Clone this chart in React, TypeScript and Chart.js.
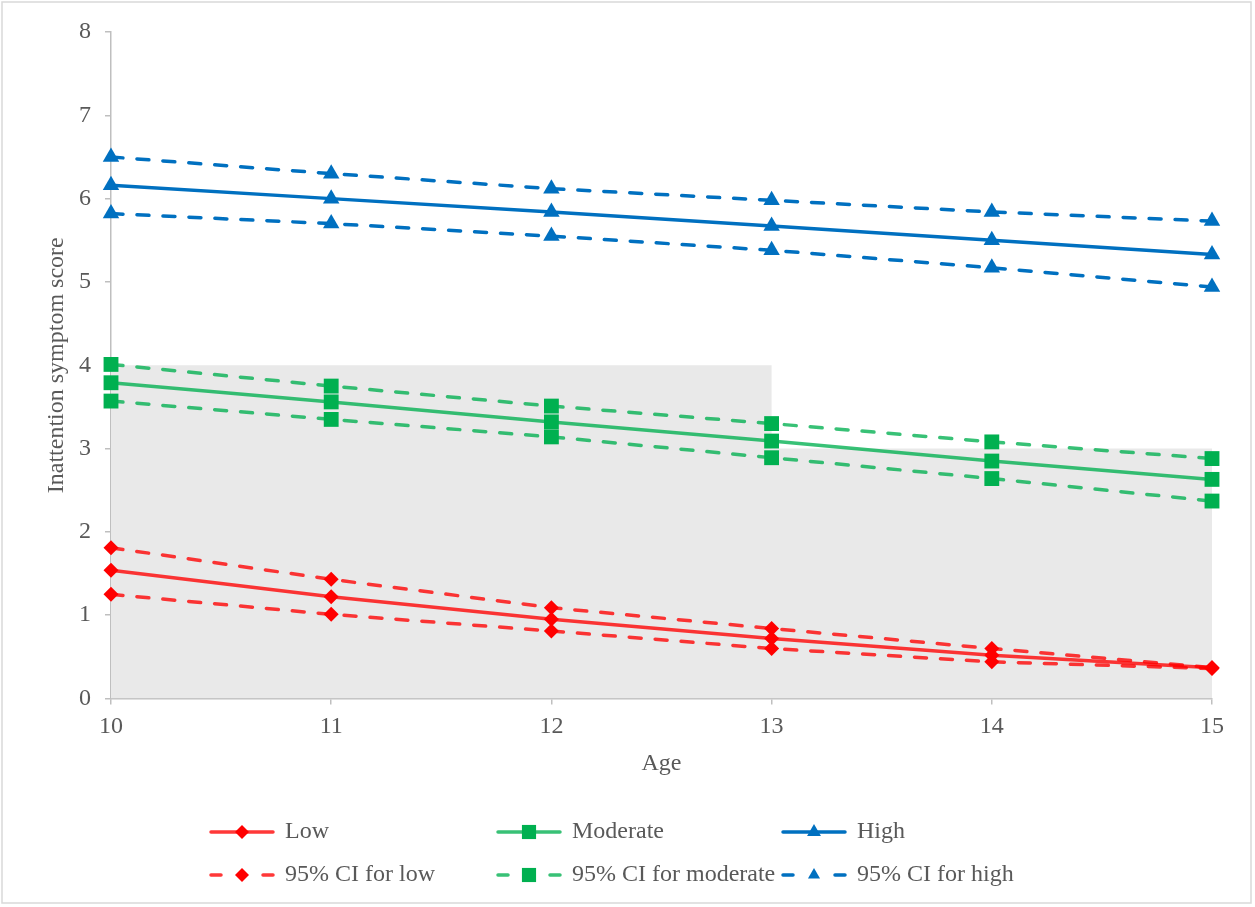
import { useEffect, useRef } from 'react';
import { Chart, registerables } from 'chart.js';

Chart.register(...registerables);

const FONT = "'Liberation Serif', 'Times New Roman', serif";
const TEXT = '#595959';
const AXIS = '#bfbfbf';

const ages = [10, 11, 12, 13, 14, 15];
const lowMean = [1.54, 1.22, 0.95, 0.72, 0.52, 0.37];
const lowUpper = [1.81, 1.43, 1.09, 0.84, 0.6, 0.37];
const lowLower = [1.25, 1.01, 0.81, 0.6, 0.44, 0.36];
const modMean = [3.79, 3.56, 3.32, 3.09, 2.85, 2.63];
const modUpper = [4.01, 3.75, 3.51, 3.3, 3.08, 2.88];
const modLower = [3.57, 3.35, 3.14, 2.89, 2.64, 2.37];
const highMean = [6.16, 6.0, 5.84, 5.67, 5.5, 5.33];
const highUpper = [6.5, 6.3, 6.12, 5.98, 5.84, 5.73];
const highLower = [5.82, 5.7, 5.55, 5.38, 5.17, 4.94];

// grey background region (age, score)
const shadeX = [10, 13, 13, 15];
const shadeY = [4, 4, 3, 3];

const legendLabels = ['Low', 'Moderate', 'High', '95% CI for low', '95% CI for moderate', '95% CI for high'];

const RED = '#ff0000';
const GREEN = '#00b050';
const BLUE = '#0070c0';
const RED_LINE = 'rgba(255,0,0,0.78)';
const GREEN_LINE = 'rgba(0,176,80,0.78)';
const BLUE_LINE = '#0070c0';

const toPts = (ys: number[]) => ages.map((x, i) => ({ x, y: ys[i] }));

type Style = 'rectRot' | 'rect' | 'triangle';

function drawMarker(ctx: CanvasRenderingContext2D, style: Style, x: number, y: number, r: number, color: string) {
  ctx.save();
  ctx.fillStyle = color;
  ctx.beginPath();
  if (style === 'rectRot') {
    ctx.moveTo(x - r, y);
    ctx.lineTo(x, y - r);
    ctx.lineTo(x + r, y);
    ctx.lineTo(x, y + r);
    ctx.closePath();
  } else if (style === 'rect') {
    const s = r * Math.SQRT1_2;
    ctx.rect(x - s, y - s, 2 * s, 2 * s);
  } else {
    ctx.moveTo(x, y - r);
    ctx.lineTo(x + r * 0.866, y + r * 0.5);
    ctx.lineTo(x - r * 0.866, y + r * 0.5);
    ctx.closePath();
  }
  ctx.fill();
  ctx.restore();
}

const legendItems = [
  { label: legendLabels[0], line: RED_LINE, marker: RED, style: 'rectRot' as Style, r: 7, dashed: false },
  { label: legendLabels[1], line: GREEN_LINE, marker: GREEN, style: 'rect' as Style, r: 10, dashed: false },
  { label: legendLabels[2], line: BLUE_LINE, marker: BLUE, style: 'triangle' as Style, r: 8, dashed: false },
  { label: legendLabels[3], line: RED_LINE, marker: RED, style: 'rectRot' as Style, r: 7, dashed: true },
  { label: legendLabels[4], line: GREEN_LINE, marker: GREEN, style: 'rect' as Style, r: 10, dashed: true },
  { label: legendLabels[5], line: BLUE_LINE, marker: BLUE, style: 'triangle' as Style, r: 7, dashed: true },
];

const frameAndLegend = {
  id: 'frameAndLegend',
  beforeDraw(chart: any) {
    const ctx = chart.ctx as CanvasRenderingContext2D;
    ctx.save();
    ctx.fillStyle = '#ffffff';
    ctx.fillRect(0, 0, chart.width, chart.height);
    ctx.strokeStyle = '#d9d9d9';
    ctx.lineWidth = 1.5;
    ctx.strokeRect(2, 2, chart.width - 6, chart.height - 6);
    ctx.restore();
  },
  afterDraw(chart: any) {
    const ctx = chart.ctx as CanvasRenderingContext2D;
    const cols = [209, 496, 781];
    const rows = [832, 875];
    const sampleLen = 66;
    ctx.save();
    ctx.font = `24px ${FONT}`;
    ctx.textBaseline = 'middle';
    ctx.textAlign = 'left';
    legendItems.forEach((it, i) => {
      const x0 = cols[i % 3];
      const y = rows[Math.floor(i / 3)];
      ctx.strokeStyle = it.line;
      ctx.lineWidth = 3.5;
      ctx.lineCap = 'round';
      ctx.beginPath();
      if (it.dashed) {
        ctx.moveTo(x0 + 2, y);
        ctx.lineTo(x0 + 12, y);
        ctx.moveTo(x0 + sampleLen - 12, y);
        ctx.lineTo(x0 + sampleLen - 2, y);
      } else {
        ctx.moveTo(x0 + 2, y);
        ctx.lineTo(x0 + sampleLen - 2, y);
      }
      ctx.stroke();
      drawMarker(ctx, it.style, x0 + sampleLen / 2, y, it.r, it.marker);
      ctx.fillStyle = TEXT;
      ctx.fillText(it.label, x0 + 76, y);
    });
    ctx.restore();
  },
};

function lineDs(label: string, ys: number[], line: string, marker: string, style: Style, r: number, dashed: boolean) {
  return {
    type: 'line' as const,
    label,
    data: toPts(ys),
    borderColor: line,
    backgroundColor: marker,
    borderWidth: 3.5,
    borderDash: dashed ? [12, 14] : [],
    borderCapStyle: 'round' as const,
    pointStyle: style,
    pointRadius: r,
    pointBackgroundColor: marker,
    pointBorderColor: marker,
    pointBorderWidth: 0,
    tension: 0,
    fill: false,
    clip: false,
    order: dashed ? 2 : 1,
  };
}

export default function App() {
  const ref = useRef<HTMLCanvasElement | null>(null);
  useEffect(() => {
    document.body.style.margin = '0';
    if (!ref.current) return;
    const chart = new Chart(ref.current, {
      type: 'line',
      data: {
        datasets: [
          lineDs('Low', lowMean, RED_LINE, RED, 'rectRot', 7.5, false),
          lineDs('Moderate', modMean, GREEN_LINE, GREEN, 'rect', 10.5, false),
          lineDs('High', highMean, BLUE_LINE, BLUE, 'triangle', 9.5, false),
          lineDs('95% CI for low (upper)', lowUpper, RED_LINE, RED, 'rectRot', 7.5, true),
          lineDs('95% CI for low (lower)', lowLower, RED_LINE, RED, 'rectRot', 7.5, true),
          lineDs('95% CI for moderate (upper)', modUpper, GREEN_LINE, GREEN, 'rect', 10.5, true),
          lineDs('95% CI for moderate (lower)', modLower, GREEN_LINE, GREEN, 'rect', 10.5, true),
          lineDs('95% CI for high (upper)', highUpper, BLUE_LINE, BLUE, 'triangle', 9.5, true),
          lineDs('95% CI for high (lower)', highLower, BLUE_LINE, BLUE, 'triangle', 9.5, true),
          {
            type: 'line' as const,
            label: 'shade',
            data: shadeX.map((x, i) => ({ x, y: shadeY[i] })),
            borderWidth: 0,
            borderColor: 'rgba(0,0,0,0)',
            backgroundColor: '#e9e9e9',
            pointRadius: 0,
            fill: 'origin',
            tension: 0,
            order: 10,
          },
        ] as any,
      },
      options: {
        animation: false,
        responsive: false,
        devicePixelRatio: 1,
        layout: { padding: { top: 32, right: 43, bottom: 118.5, left: 0 } },
        plugins: {
          legend: { display: false },
          tooltip: { enabled: false },
        },
        scales: {
          x: {
            type: 'linear',
            min: 10,
            max: 15,
            ticks: { stepSize: 1, color: TEXT, font: { size: 24, family: FONT }, padding: 8 },
            grid: { display: true, drawOnChartArea: false, drawTicks: true, tickLength: 6, color: AXIS, lineWidth: 1.5 },
            border: { display: true, color: AXIS, width: 1.5 },
            title: { display: true, text: 'Age', color: TEXT, font: { size: 24, family: FONT }, padding: { top: 0, bottom: 10 } },
            afterFit: (s: any) => { s.height = 90; },
          },
          y: {
            type: 'linear',
            min: 0,
            max: 8,
            ticks: { stepSize: 1, color: TEXT, font: { size: 24, family: FONT }, padding: 14 },
            grid: { display: true, drawOnChartArea: false, drawTicks: true, tickLength: 6, color: AXIS, lineWidth: 1.5 },
            border: { display: true, color: AXIS, width: 1.5 },
            title: { display: true, text: 'Inattention symptom score', color: TEXT, font: { size: 24, family: FONT }, padding: { top: 42, bottom: 0 } },
            afterFit: (s: any) => { s.width = 111; },
          },
        },
      } as any,
      plugins: [frameAndLegend],
    });
    return () => chart.destroy();
  }, []);
  return (
    <div style={{ width: 1255, height: 907 }}>
      <canvas ref={ref} width={1255} height={907} style={{ display: 'block', width: 1255, height: 907 }} />
    </div>
  );
}
